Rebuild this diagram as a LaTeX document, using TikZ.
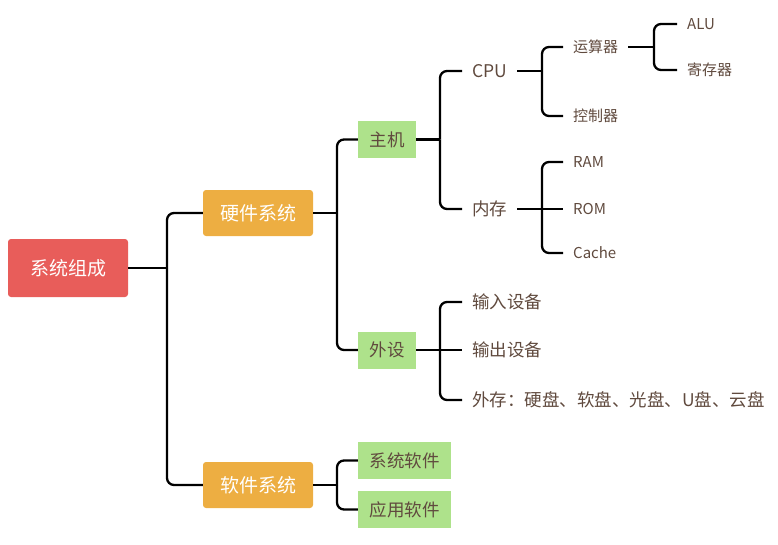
\documentclass[tikz,border=0pt]{standalone}
\usepackage{fontspec}
\setmainfont{Noto Sans CJK SC}

\definecolor{rootred}{RGB}{232,93,90}
\definecolor{sysorange}{RGB}{237,174,66}
\definecolor{partgreen}{RGB}{174,226,139}
\definecolor{textbrown}{RGB}{96,74,62}

\begin{document}
\begin{tikzpicture}[x=1pt, y=-1pt,
        rootbox/.style={fill=rootred, text=white, rounded corners=3pt, minimum width=120pt, minimum height=58pt, font=\fontsize{19}{19}\selectfont},
        sysbox/.style={fill=sysorange, text=white, rounded corners=3pt, minimum width=110pt, minimum height=46pt, font=\fontsize{19}{19}\selectfont},
        partbox/.style={fill=partgreen, text=textbrown, minimum height=37pt, inner xsep=0pt, font=\fontsize{17.5}{17.5}\selectfont},
        item/.style={anchor=west, text=textbrown, inner xsep=10pt, inner ysep=2pt, font=\fontsize{17.5}{17.5}\selectfont},
        subitem/.style={item, font=\fontsize{15}{15}\selectfont},
        link/.style={line width=2.3pt, rounded corners=7pt}]
        \useasboundingbox (0,0) rectangle (778,544);

        % boxes
        \node[rootbox] (root) at (68,268) {系统组成};
        \node[sysbox] (hw) at (258,213) {硬件系统};
        \node[sysbox] (sw) at (258,485) {软件系统};
        \node[partbox, minimum width=58pt] (host) at (387,139.5) {主机};
        \node[partbox, minimum width=58pt] (periph) at (387,350) {外设};
        \node[partbox, minimum width=93pt] (syssw) at (404.5,460.5) {系统软件};
        \node[partbox, minimum width=93pt] (appsw) at (404.5,509.5) {应用软件};

        % plain texts
        \node[item] (cpu) at (462,71) {CPU};
        \node[item] (mem) at (462,209) {内存};
        \node[subitem] (calc) at (563,47) {运算器};
        \node[subitem] (ctrl) at (563,116) {控制器};
        \node[subitem] (alu) at (677,24) {ALU};
        \node[subitem] (reg) at (677,70) {寄存器};
        \node[subitem] (ram) at (563,162) {RAM};
        \node[subitem] (rom) at (563,209) {ROM};
        \node[subitem] (cache) at (563,253) {Cache};
        \node[item] (input) at (462,302) {输入设备};
        \node[item] (output) at (462,350) {输出设备};
        \node[item] (storage) at (462,400) {外存：硬盘、软盘、光盘、U盘、云盘};

        % junctions
        \coordinate (j0) at (167,268);
        \coordinate (j1) at (337,213);
        \coordinate (j2) at (337,485);
        \coordinate (j3) at (440,139.5);
        \coordinate (j4) at (440,350);
        \coordinate (j5) at (542,71);
        \coordinate (j6) at (542,209);
        \coordinate (j7) at (654,47);

        % connectors
        \draw[link] (root.east) -- (j0);
        \draw[link] (j0) |- (hw.west);
        \draw[link] (j0) |- (sw.west);
        \draw[link] (hw.east) -- (j1);
        \draw[link] (j1) |- (host.west);
        \draw[link] (j1) |- (periph.west);
        \draw[link] (sw.east) -- (j2);
        \draw[link] (j2) |- (syssw.west);
        \draw[link] (j2) |- (appsw.west);
        \draw[link] (host.east) -- (j3);
        \draw[link] (j3) |- (cpu.west);
        \draw[link] (j3) |- (mem.west);
        \draw[link] (periph.east) -- (j4);
        \draw[link] (j4) |- (input.west);
        \draw[link] (j4) -- (output.west);
        \draw[link] (j4) |- (storage.west);
        \draw[link] (cpu.east) -- (j5);
        \draw[link] (j5) |- (calc.west);
        \draw[link] (j5) |- (ctrl.west);
        \draw[link] (mem.east) -- (j6);
        \draw[link] (j6) |- (ram.west);
        \draw[link] (j6) -- (rom.west);
        \draw[link] (j6) |- (cache.west);
        \draw[link] (calc.east) -- (j7);
        \draw[link] (j7) |- (alu.west);
        \draw[link] (j7) |- (reg.west);
\end{tikzpicture}
\end{document}
